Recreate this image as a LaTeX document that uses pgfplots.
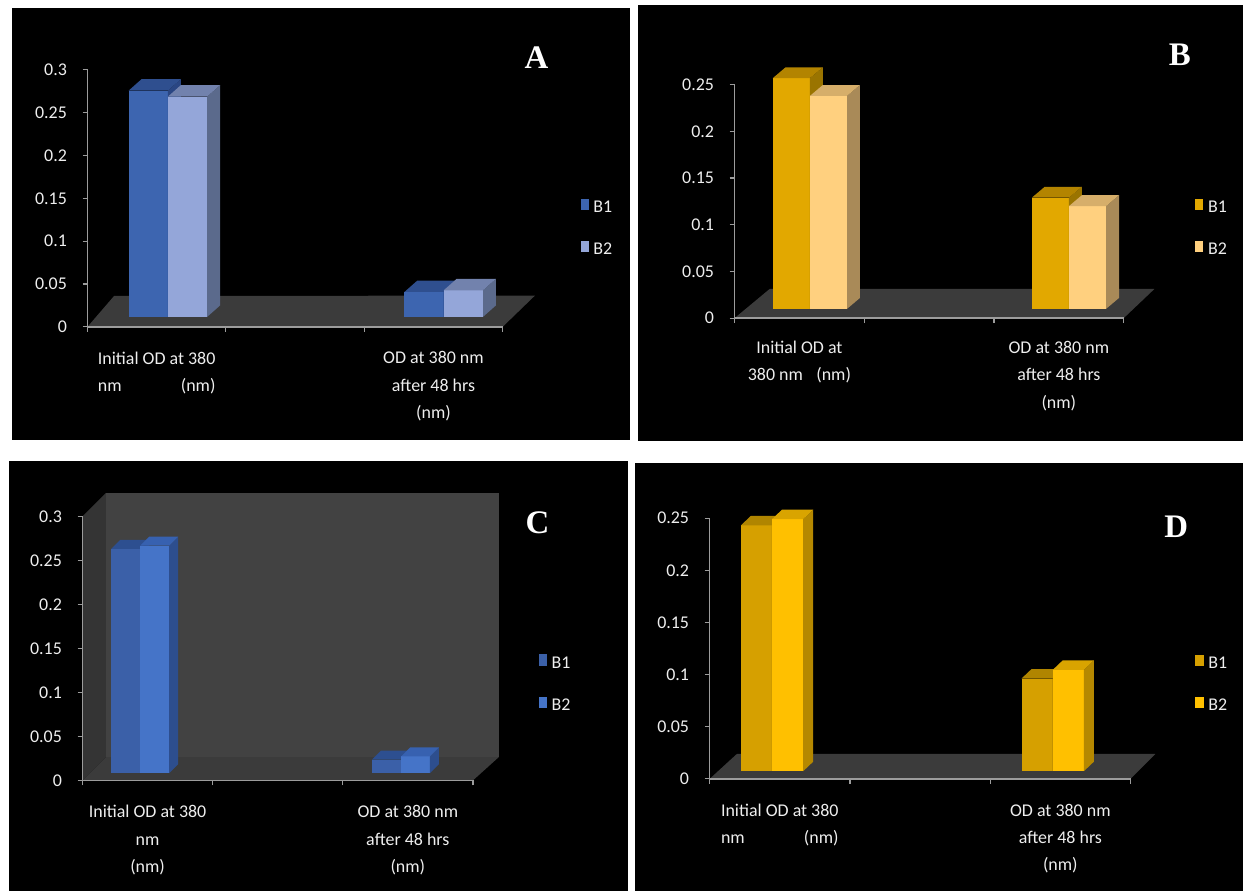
\documentclass[border=0pt]{standalone}
\usepackage{pgfplots}
\pgfplotsset{compat=1.18}
\usepackage{fontspec}
\setmainfont{Carlito}
\newfontfamily\serifb{Liberation Serif}
\newcommand\labfont{\fontsize{9}{13.75}\selectfont}
\newcommand\letfont{\serifb\bfseries\fontsize{16.5}{16.5}\selectfont}

\definecolor{axgrey}{HTML}{9C9C9C}
\definecolor{tickc}{HTML}{EEEEEE}
\definecolor{floorc}{HTML}{3B3B3B}
\definecolor{wallc}{HTML}{424242}
\definecolor{lwallc}{HTML}{343434}
% A
\definecolor{aF1}{HTML}{3D65B0}\definecolor{aS1}{HTML}{2A4683}\definecolor{aT1}{HTML}{2F4F8F}
\definecolor{aF2}{HTML}{94A6D9}\definecolor{aS2}{HTML}{5B6A8C}\definecolor{aT2}{HTML}{7282AD}
% B
\definecolor{bF1}{HTML}{E2A800}\definecolor{bS1}{HTML}{9A7400}\definecolor{bT1}{HTML}{B38400}
\definecolor{bF2}{HTML}{FFD07F}\definecolor{bS2}{HTML}{A98A58}\definecolor{bT2}{HTML}{D6AE6A}
% C
\definecolor{cF1}{HTML}{3B60A8}\definecolor{cS1}{HTML}{2A4A85}\definecolor{cT1}{HTML}{2D4F90}
\definecolor{cF2}{HTML}{4574C8}\definecolor{cS2}{HTML}{2D4E8E}\definecolor{cT2}{HTML}{3761B0}
% D
\definecolor{dF1}{HTML}{D6A000}\definecolor{dS1}{HTML}{9E7600}\definecolor{dT1}{HTML}{B08500}
\definecolor{dF2}{HTML}{FFC000}\definecolor{dS2}{HTML}{B58800}\definecolor{dT2}{HTML}{D9A400}

% 3-D column: #1 left x, #2 width, #3 value, #4 front, #5 side, #6 top
\newcommand{\cub}[6]{%
 \pgfmathsetmacro\xa{#1}%
 \pgfmathsetmacro\xb{#1+#2}%
 \pgfmathsetmacro\xc{#1+#2+\ddx}%
 \pgfmathsetmacro\xd{#1+\ddx}%
 \pgfmathsetmacro\ya{\by}%
 \pgfmathsetmacro\yb{\by+#3}%
 \pgfmathsetmacro\yc{\by+\ddy}%
 \pgfmathsetmacro\yd{\by+#3+\ddy}%
 \edef\temp{%
 \noexpand\addplot[fill=#4,draw=none,forget plot] coordinates {(\xa,\ya) (\xb,\ya) (\xb,\yb) (\xa,\yb)} --cycle;
 \noexpand\addplot[fill=#5,draw=none,forget plot] coordinates {(\xb,\ya) (\xc,\yc) (\xc,\yd) (\xb,\yb)} --cycle;
 \noexpand\addplot[fill=#6,draw=none,forget plot] coordinates {(\xa,\yb) (\xb,\yb) (\xc,\yd) (\xd,\yd)} --cycle;}%
 \temp}

\pgfplotsset{
 panel/.style={
  scale only axis, clip=false, axis on top,
  xmin=0, xmax=3, ymin=0,
  axis x line*=bottom, axis y line*=left,
  axis line style={-, draw=axgrey, line width=0.75pt},
  tick style={draw=axgrey, line width=0.6pt},
  tick align=outside, major tick length=2.5pt,
  xtick={0,1,2,3}, xticklabels={},
  yticklabel style={font=\labfont, text=tickc, xshift=-4.3pt},
  /pgf/number format/assume math mode=true,
  legend image code/.code={\fill[##1] (0pt,-2pt) rectangle (4.6pt,4.1pt);},
  legend style={draw=none, fill=none, text=tickc, font=\labfont,
    inner sep=0pt, outer sep=0pt, anchor=west, row sep=14pt, column sep=2pt,
    nodes={inner sep=0pt, text height=6pt, text depth=0pt}},
 },
}
\tikzset{lab/.style={anchor=north, inner sep=0pt, align=center, font=\labfont, text=tickc, yshift=-12.3pt}}

\begin{document}
\newlength\labw
\settowidth{\labw}{\labfont Initial OD at 380}
\begin{tikzpicture}
\fill[white] (0,0) rectangle (621.5pt,447pt);
\fill[black] (4pt,226pt) rectangle (314pt,443pt);
\fill[black] (318pt,225.5pt) rectangle (621.5pt,444.5pt);
\fill[black] (2.5pt,0pt) rectangle (313pt,215.5pt);
\fill[black] (316.5pt,0pt) rectangle (621.5pt,214.5pt);

% ---------------- A
\def\by{0.01163}\def\ddx{0.0935}\def\ddy{0.01337}
\begin{axis}[panel, at={(41.65pt,283pt)}, anchor=south west,
  width=208.35pt, height=129pt, ymax=0.3,
  ytick={0,0.05,0.1,0.15,0.2,0.25,0.3},
  yticklabels={0,0.05,0.1,0.15,0.2,0.25,0.3},
  legend style={at={(1.185,0.391)}}]
\addplot[fill=floorc, draw=none, forget plot] coordinates {(0,0) (3,0) (3.233,0.0364) (0.192,0.036)} --cycle;
\cub{0.297}{0.284}{0.264}{aF1}{aS1}{aT1}
\cub{0.581}{0.284}{0.257}{aF2}{aS2}{aT2}
\cub{2.290}{0.284}{0.029}{aF1}{aS1}{aT1}
\cub{2.574}{0.284}{0.031}{aF2}{aS2}{aT2}
\addlegendimage{fill=aF1}\addlegendentry{B1}
\addlegendimage{fill=aF2}\addlegendentry{B2}
\node[lab] at (axis cs:0.5,0) {Initial OD at 380\\\makebox[\labw]{nm\hfill(nm)}};
\node[lab] at (axis cs:2.5,0) {OD at 380 nm\\after 48 hrs\\(nm)};
\end{axis}

% ---------------- B
\def\by{0.00992}\def\ddx{0.0998}\def\ddy{0.01174}
\begin{axis}[panel, at={(366.35pt,287.35pt)}, anchor=south west,
  width=195.3pt, height=117.15pt, ymax=0.25,
  ytick={0,0.05,0.1,0.15,0.2,0.25},
  yticklabels={0,0.05,0.1,0.15,0.2,0.25},
  legend style={at={(1.181,0.394)}}]
\addplot[fill=floorc, draw=none, forget plot] coordinates {(0,0) (3,0) (3.237,0.0313) (0.271,0.0313)} --cycle;
\cub{0.294}{0.2865}{0.247}{bF1}{bS1}{bT1}
\cub{0.5805}{0.2865}{0.228}{bF2}{bS2}{bT2}
\cub{2.291}{0.2865}{0.119}{bF1}{bS1}{bT1}
\cub{2.5775}{0.2865}{0.110}{bF2}{bS2}{bT2}
\addlegendimage{fill=bF1}\addlegendentry{B1}
\addlegendimage{fill=bF2}\addlegendentry{B2}
\node[lab, yshift=1pt] at (axis cs:0.5,0) {Initial OD at\\380 nm\hspace{0.75em}(nm)};
\node[lab, yshift=1pt] at (axis cs:2.5,0) {OD at 380 nm\\after 48 hrs\\(nm)};
\end{axis}

% ---------------- C
\def\by{0.00826}\def\ddx{0.0689}\def\ddy{0.01019}
\begin{axis}[panel, at={(39.15pt,55.35pt)}, anchor=south west,
  width=195.9pt, height=132.5pt, ymax=0.3,
  ytick={0,0.05,0.1,0.15,0.2,0.25,0.3},
  yticklabels={0,0.05,0.1,0.15,0.2,0.25,0.3},
  legend style={at={(1.166,0.373)}}]
\addplot[fill=wallc, draw=none, forget plot] coordinates {(0.179,0.0264) (3.198,0.0264) (3.198,0.3265) (0.179,0.3265)} --cycle;
\addplot[fill=lwallc, draw=none, forget plot] coordinates {(0,0) (0.179,0.0264) (0.179,0.3265) (0,0.3)} --cycle;
\addplot[fill=floorc, draw=none, forget plot] coordinates {(0,0) (3,0) (3.198,0.0264) (0.179,0.0264)} --cycle;
\cub{0.222}{0.222}{0.255}{cF1}{cS1}{cT1}
\cub{0.444}{0.222}{0.2585}{cF2}{cS2}{cT2}
\cub{2.226}{0.222}{0.0155}{cF1}{cS1}{cT1}
\cub{2.448}{0.222}{0.019}{cF2}{cS2}{cT2}
\addlegendimage{fill=cF1}\addlegendentry{B1}
\addlegendimage{fill=cF2}\addlegendentry{B2}
\node[lab] at (axis cs:0.5,0) {Initial OD at 380\\nm\\(nm)};
\node[lab] at (axis cs:2.5,0) {OD at 380 nm\\after 48 hrs\\(nm)};
\end{axis}

% ---------------- D
\def\by{0.00736}\def\ddx{0.0710}\def\ddy{0.00908}
\begin{axis}[panel, at={(353.85pt,56.15pt)}, anchor=south west,
  width=211.2pt, height=130.85pt, ymax=0.25,
  ytick={0,0.05,0.1,0.15,0.2,0.25},
  yticklabels={0,0.05,0.1,0.15,0.2,0.25},
  legend style={at={(1.152,0.371)}}]
\addplot[fill=floorc, draw=none, forget plot] coordinates {(0,0) (3,0) (3.177,0.0239) (0.194,0.0239)} --cycle;
\cub{0.222}{0.2223}{0.2356}{dF1}{dS1}{dT1}
\cub{0.4443}{0.2223}{0.2416}{dF2}{dS2}{dT2}
\cub{2.223}{0.2223}{0.0888}{dF1}{dS1}{dT1}
\cub{2.4453}{0.2223}{0.0971}{dF2}{dS2}{dT2}
\addlegendimage{fill=dF1}\addlegendentry{B1}
\addlegendimage{fill=dF2}\addlegendentry{B2}
\node[lab] at (axis cs:0.5,0) {Initial OD at 380\\\makebox[\labw]{nm\hfill(nm)}};
\node[lab] at (axis cs:2.5,0) {OD at 380 nm\\after 48 hrs\\(nm)};
\end{axis}

\node[font=\letfont, text=white] at (267pt,418.25pt) {A};
\node[font=\letfont, text=white] at (589.75pt,419.5pt) {B};
\node[font=\letfont, text=white] at (267.5pt,184.75pt) {C};
\node[font=\letfont, text=white] at (588pt,182.5pt) {D};

\pgfresetboundingbox
\path[use as bounding box] (0,0) rectangle (621.5pt,447pt);
\end{tikzpicture}
\end{document}
